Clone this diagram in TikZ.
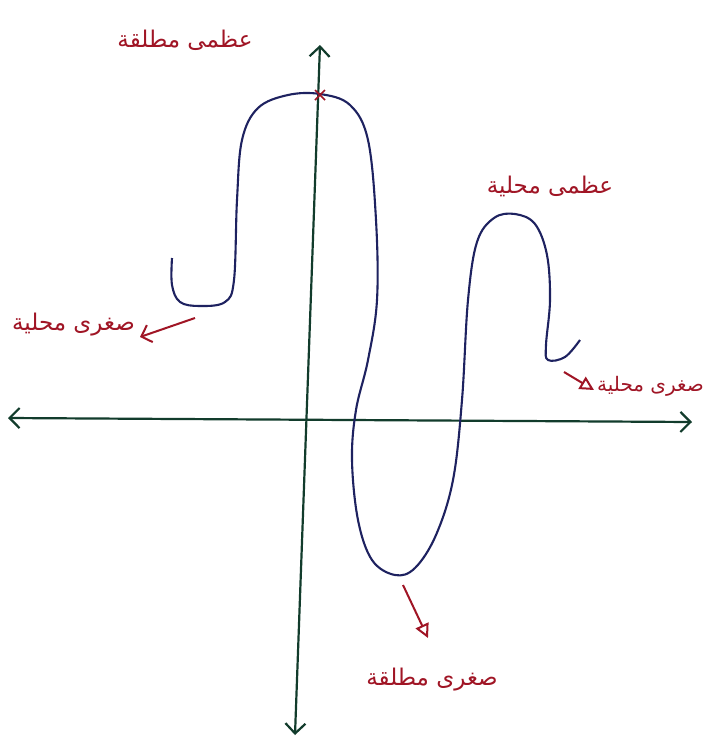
\documentclass[tikz,border=0pt]{standalone}
\usepackage{fontspec}
\newfontfamily\arabicfont[Script=Arabic]{DejaVu Sans}
\TeXXeTstate=1
\usetikzlibrary{arrows.meta,calc}
\definecolor{axisgreen}{HTML}{123C2C}
\definecolor{curveblue}{HTML}{1E2260}
\definecolor{labelred}{HTML}{A01525}
\begin{document}
\begin{tikzpicture}[x=1pt,y=-1pt,
  axis/.style={draw=axisgreen,line width=2.2pt,{Straight Barb[length=10pt,width=20pt]}-{Straight Barb[length=10pt,width=20pt]}},
  curve/.style={draw=curveblue,line width=2.1pt},
  lbl/.style={text=labelred,font=\arabicfont\fontsize{23}{27}\selectfont,inner sep=1pt},
  tri/.style={draw=labelred,line width=2pt,-{Triangle[open,length=14pt,width=14pt]}},
  barb/.style={draw=labelred,line width=2pt,-{Straight Barb[length=9pt,width=18pt]}}]
\useasboundingbox (0,0) rectangle (706,740);
\fill[white] (0,0) rectangle (706,740);
% axes
\coordinate (xl) at (8,418);
\coordinate (xr) at (692,422);
\coordinate (yt) at (320,45);
\coordinate (yb) at (295,735);
\draw[axis] (xl) -- (xr);
\draw[axis] (yb) -- (yt);
% curve
\draw[curve] plot[smooth,tension=0.6] coordinates {(172,258) (172,285) (180,302) (200,306) (225,302) (234,280) (237,200) (242,140) (258,108) (288,95) (320,94) (350,105) (368,140) (376,220) (377,300) (368,360) (356,410) (352,460) (358,520) (372,560) (395,575) (415,568) (436,535) (453,480) (462,400) (468,300) (477,242) (494,218) (515,214) (535,224) (547,255) (550,300) (546,345) (548,360) (565,357) (580,340)};
% absolute max mark
\coordinate (amax) at (320,95);
\draw[labelred,line width=1.6pt] ($(amax)+(-5,-5)$) -- ($(amax)+(5,5)$) ($(amax)+(-5,5)$) -- ($(amax)+(5,-5)$);
% labels
\node[lbl] (absmax) at (185,40) {\beginR عظمى مطلقة\endR};
\node[lbl] (locmax) at (550,186) {\beginR عظمى محلية\endR};
\node[lbl,anchor=east] (locminl) at (136,325) {\beginR صغرى محلية\endR};
\node[lbl,anchor=east,font=\arabicfont\fontsize{20}{24}\selectfont] (locminr) at (705,386) {\beginR صغرى محلية\endR};
\node[lbl] (absmin) at (432,680) {\beginR صغرى مطلقة\endR};
% arrows
\coordinate (a1s) at (195,318);
\coordinate (a1e) at (140,337);
\draw[barb] (a1s) -- (a1e);
\coordinate (a2s) at (564,372);
\coordinate (a2e) at (594,390);
\draw[tri] (a2s) -- (a2e);
\coordinate (a3s) at (403,585);
\coordinate (a3e) at (428,638);
\draw[tri] (a3s) -- (a3e);
\end{tikzpicture}
\end{document}
